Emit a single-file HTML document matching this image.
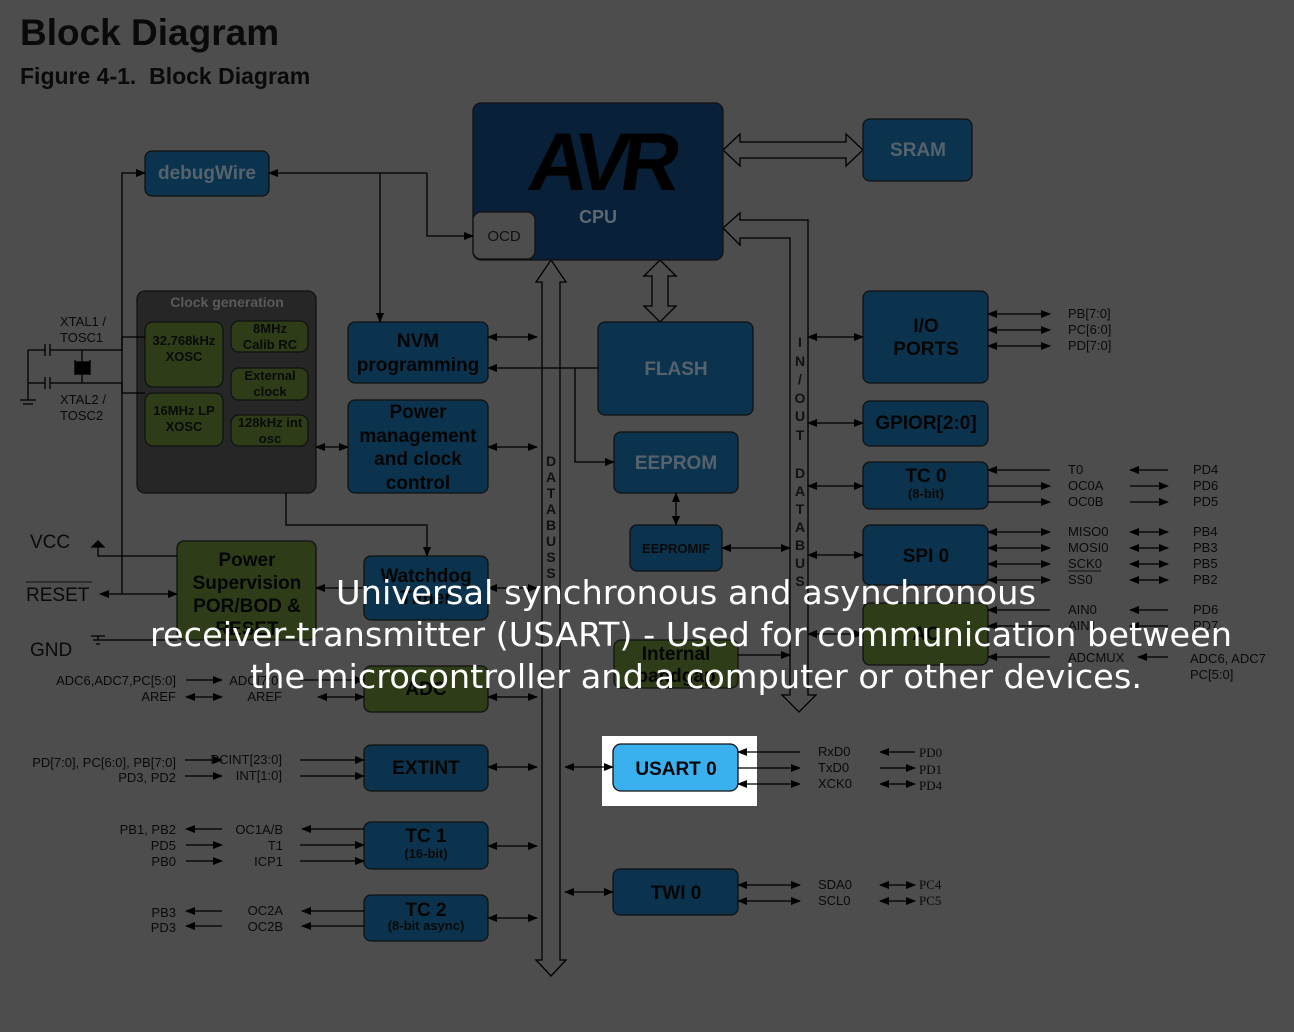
<!DOCTYPE html>
<html><head><meta charset="utf-8"><style>
html,body{margin:0;padding:0;background:#4d4d4d;}
svg{display:block;font-family:"Liberation Sans",Arial,sans-serif;}
.b{fill:#0b334d;stroke:#111;stroke-width:1.3}
.g{fill:#2e3d18;stroke:#111;stroke-width:1.3}
.l{stroke:#000;stroke-width:1.3;fill:none}
.bt{font-weight:bold;font-size:19px;fill:#050505;text-anchor:middle}
.gt{font-weight:bold;font-size:19px;fill:#56636d;text-anchor:middle}
.s{font-size:13px;fill:#0a0a0a}
.sb{font-weight:bold;font-size:13px;fill:#0a0a0a;text-anchor:middle}
.ov{fill:#fff;font-size:33px;text-anchor:middle;font-family:"DejaVu Sans","Liberation Sans",sans-serif}
</style></head><body>
<svg width="1294" height="1032" viewBox="0 0 1294 1032" xmlns="http://www.w3.org/2000/svg">
<defs>
<marker id="a" markerWidth="10" markerHeight="8" refX="9" refY="4" orient="auto-start-reverse" markerUnits="userSpaceOnUse"><path d="M0,0 L10,4 L0,8 z" fill="#000"/></marker>
</defs>
<rect width="1294" height="1032" fill="#4d4d4d"/>
<text x="20" y="45" font-size="37" font-weight="bold" fill="#0a0a0a">Block Diagram</text>
<text x="20" y="84" font-size="23" font-weight="bold" fill="#0a0a0a" xml:space="preserve" style="white-space:pre">Figure 4-1.  Block Diagram</text>

<polygon class="l" points="551,260 536,282 542,282 542,960 536,960 551,976 566,960 560,960 560,282 566,282"/>
<g font-size="14" font-weight="bold" fill="#111" text-anchor="middle">
<text x="551" y="466">D</text><text x="551" y="482">A</text><text x="551" y="498">T</text><text x="551" y="514">A</text><text x="551" y="530">B</text><text x="551" y="546">U</text><text x="551" y="562">S</text><text x="551" y="578">S</text>
</g>
<path class="l" d="M723,228 L740,213 L740,220 L808,220 L808,695 L816,695 L799,712 L782,695 L790,695 L790,238 L740,238 L740,245 Z"/>
<g font-size="14" font-weight="bold" fill="#111" text-anchor="middle">
<text x="800" y="347">I</text><text x="800" y="366">N</text><text x="800" y="384">/</text><text x="800" y="403">O</text><text x="800" y="421">U</text><text x="800" y="440">T</text>
<text x="800" y="478">D</text><text x="800" y="496">A</text><text x="800" y="514">T</text><text x="800" y="532">A</text><text x="800" y="550">B</text><text x="800" y="568">U</text><text x="800" y="586">S</text>
</g>
<polygon class="l" points="723,150 740,134 740,142 846,142 846,134 863,150 846,166 846,158 740,158 740,166"/>
<polygon class="l" points="660,260 676,276 668,276 668,306 676,306 660,322 644,306 652,306 652,276 644,276"/>

<rect x="473" y="103" width="250" height="157" rx="8" fill="#082038" stroke="#111" stroke-width="1.3"/>
<text x="598" y="190" font-size="82" font-weight="bold" fill="#000" text-anchor="middle" letter-spacing="-8" transform="skewX(-8) translate(26,0)">AVR</text>
<text x="598" y="223" font-size="18" font-weight="bold" fill="#5e6870" text-anchor="middle">CPU</text>
<rect x="473" y="212" width="62" height="47" rx="8" fill="#4d4d4d" stroke="#111" stroke-width="1.3"/>
<text x="504" y="241" font-size="15" fill="#111" text-anchor="middle">OCD</text>

<rect class="b" x="863" y="119" width="109" height="62" rx="7"/><text class="gt" x="918" y="156">SRAM</text>
<rect class="b" x="145" y="151" width="124" height="45" rx="7"/><text class="gt" x="207" y="179">debugWire</text>

<rect x="137" y="291" width="179" height="202" rx="8" fill="#262626" stroke="#111" stroke-width="1.3"/>
<text x="227" y="307" font-size="14" font-weight="bold" fill="#5a5a5a" text-anchor="middle">Clock generation</text>
<rect class="g" x="145" y="322" width="78" height="65" rx="8"/><text class="sb" x="184" y="345">32.768kHz</text><text class="sb" x="184" y="361">XOSC</text>
<rect class="g" x="145" y="393" width="78" height="53" rx="8"/><text class="sb" x="184" y="415">16MHz LP</text><text class="sb" x="184" y="431">XOSC</text>
<rect class="g" x="231" y="321" width="77" height="31" rx="8"/><text class="sb" x="270" y="333">8MHz</text><text class="sb" x="270" y="349">Calib RC</text>
<rect class="g" x="231" y="368" width="77" height="32" rx="8"/><text class="sb" x="270" y="380">External</text><text class="sb" x="270" y="396">clock</text>
<rect class="g" x="231" y="415" width="77" height="31" rx="8"/><text class="sb" x="270" y="427">128kHz int</text><text class="sb" x="270" y="443">osc</text>

<rect class="b" x="348" y="322" width="140" height="61" rx="7"/><text class="bt" x="418" y="347">NVM</text><text class="bt" x="418" y="371">programming</text>
<rect class="b" x="348" y="400" width="140" height="93" rx="7"/><text class="bt" x="418" y="418">Power</text><text class="bt" x="418" y="442">management</text><text class="bt" x="418" y="465">and clock</text><text class="bt" x="418" y="489">control</text>
<rect class="b" x="598" y="322" width="155" height="93" rx="7"/><text class="gt" x="676" y="375">FLASH</text>
<rect class="b" x="614" y="432" width="124" height="61" rx="7"/><text class="gt" x="676" y="469">EEPROM</text>
<rect class="b" x="630" y="525" width="92" height="46" rx="7"/><text class="sb" x="676" y="553" font-size="15">EEPROMIF</text>
<rect class="b" x="364" y="556" width="124" height="64" rx="7"/><text class="bt" x="426" y="582">Watchdog</text><text class="bt" x="426" y="604">Timer</text>
<rect class="g" x="177" y="541" width="139" height="99" rx="7"/><text class="bt" x="247" y="566">Power</text><text class="bt" x="247" y="589">Supervision</text><text class="bt" x="247" y="612">POR/BOD &amp;</text><text class="bt" x="247" y="635">RESET</text>
<rect class="g" x="364" y="666" width="124" height="46" rx="7"/><text class="bt" x="426" y="695">ADC</text>
<rect class="g" x="614" y="640" width="124" height="48" rx="7"/><text class="bt" x="676" y="660" font-size="17">Internal</text><text class="bt" x="676" y="682" font-size="17">bandgap</text>
<rect class="b" x="364" y="745" width="124" height="46" rx="7"/><text class="bt" x="426" y="774">EXTINT</text>
<rect class="b" x="364" y="822" width="124" height="47" rx="7"/><text class="bt" x="426" y="842">TC 1</text><text class="sb" x="426" y="858">(16-bit)</text>
<rect class="b" x="364" y="895" width="124" height="46" rx="7"/><text class="bt" x="426" y="916">TC 2</text><text class="sb" x="426" y="930">(8-bit async)</text>
<rect x="602" y="736" width="155" height="70" fill="#fff"/>
<rect x="613" y="744" width="125" height="47" rx="8" fill="#3ab0ef" stroke="#111" stroke-width="1.3"/><text class="bt" x="676" y="775">USART 0</text>
<rect class="b" x="613" y="869" width="125" height="46" rx="7"/><text class="bt" x="676" y="899">TWI 0</text>
<rect class="b" x="863" y="291" width="125" height="92" rx="7"/><text class="bt" x="926" y="332">I/O</text><text class="bt" x="926" y="355">PORTS</text>
<rect class="b" x="863" y="401" width="125" height="45" rx="7"/><text class="bt" x="926" y="429">GPIOR[2:0]</text>
<rect class="b" x="863" y="462" width="125" height="47" rx="7"/><text class="bt" x="926" y="482">TC 0</text><text class="sb" x="926" y="498">(8-bit)</text>
<rect class="b" x="863" y="525" width="125" height="60" rx="7"/><text class="bt" x="926" y="562">SPI 0</text>
<rect class="g" x="863" y="603" width="125" height="62" rx="7"/><text class="bt" x="926" y="640">AC</text>

<g class="l">
<path d="M122,594 L122,173 L145,173" marker-end="url(#a)"/>
<path d="M427,173 L269,173" marker-end="url(#a)"/>
<path d="M427,173 L427,236 L473,236" marker-end="url(#a)"/>
<path d="M380,173 L380,322" marker-end="url(#a)"/>
<path d="M316,447 L348,447" marker-start="url(#a)" marker-end="url(#a)"/>
<path d="M286,493 L286,525 L427,525 L427,556" marker-end="url(#a)"/>
<path d="M100,594 L177,594" marker-start="url(#a)" marker-end="url(#a)"/>
<path d="M98,546 L98,556 L177,556"/><path d="M92,547 L98,541 L104,547 Z" fill="#000"/>
<path d="M98,640 L177,640 M98,640 L98,636 M91,636 L105,636 M93,640 L103,640 M96,644 L100,644"/>
<path d="M364,588 L316,588" marker-end="url(#a)"/>
<path d="M488,337 L537,337" marker-start="url(#a)" marker-end="url(#a)"/>
<path d="M598,368 L488,368" marker-end="url(#a)"/>
<path d="M575,368 L575,462 L614,462" marker-end="url(#a)"/>
<path d="M488,447 L537,447" marker-start="url(#a)" marker-end="url(#a)"/>
<path d="M488,588 L537,588" marker-start="url(#a)" marker-end="url(#a)"/>
<path d="M488,697 L537,697" marker-start="url(#a)" marker-end="url(#a)"/>
<path d="M488,767 L537,767" marker-start="url(#a)" marker-end="url(#a)"/>
<path d="M488,846 L537,846" marker-start="url(#a)" marker-end="url(#a)"/>
<path d="M488,918 L537,918" marker-start="url(#a)" marker-end="url(#a)"/>
<path d="M565,767 L613,767" marker-start="url(#a)" marker-end="url(#a)"/>
<path d="M565,892 L613,892" marker-start="url(#a)" marker-end="url(#a)"/>
<path d="M676,493 L676,525" marker-start="url(#a)" marker-end="url(#a)"/>
<path d="M722,548 L790,548" marker-start="url(#a)" marker-end="url(#a)"/>
<path d="M738,655 L790,655" marker-end="url(#a)"/>
<path d="M808,337 L863,337" marker-start="url(#a)" marker-end="url(#a)"/>
<path d="M808,423 L863,423" marker-start="url(#a)" marker-end="url(#a)"/>
<path d="M808,486 L863,486" marker-start="url(#a)" marker-end="url(#a)"/>
<path d="M808,555 L863,555" marker-start="url(#a)" marker-end="url(#a)"/>
<path d="M808,634 L863,634" marker-start="url(#a)" marker-end="url(#a)"/>
<path d="M318,697 L364,697" marker-start="url(#a)" marker-end="url(#a)"/>
<path d="M300,680 L364,680" marker-end="url(#a)"/>
<path d="M300,760 L364,760" marker-end="url(#a)"/>
<path d="M300,776 L364,776" marker-end="url(#a)"/>
<path d="M364,829 L302,829" marker-end="url(#a)"/>
<path d="M300,845 L364,845" marker-end="url(#a)"/>
<path d="M300,861 L364,861" marker-end="url(#a)"/>
<path d="M364,911 L302,911" marker-end="url(#a)"/>
<path d="M364,926 L302,926" marker-end="url(#a)"/>
<path d="M222,829 L186,829" marker-end="url(#a)"/><path d="M186,845 L222,845" marker-end="url(#a)"/><path d="M186,861 L222,861" marker-end="url(#a)"/>
<path d="M222,911 L186,911" marker-end="url(#a)"/><path d="M222,926 L186,926" marker-end="url(#a)"/>
<path d="M186,680 L222,680" marker-end="url(#a)"/><path d="M186,697 L222,697" marker-start="url(#a)" marker-end="url(#a)"/>
<path d="M185,760 L222,760" marker-end="url(#a)"/><path d="M185,776 L222,776" marker-end="url(#a)"/>
<path d="M60,350 L122,350 L122,337 L145,337 M60,383 L122,383 L122,393 L145,393 M75,360 L75,375 M82,358 L82,377 M90,360 L90,375 M82,350 L82,358 M82,377 L82,383 M28,350 L45,350 M28,383 L45,383 M45,344 L45,356 M50,344 L50,356 M45,377 L45,389 M50,377 L50,389 M50,350 L60,350 M50,383 L60,383 M28,350 L28,400 M20,400 L36,400 M23,404 L33,404"/>
<rect x="76" y="362" width="13" height="12" fill="#000"/>
<path d="M738,752 L800,752" marker-start="url(#a)"/>
<path d="M738,768 L800,768" marker-end="url(#a)"/>
<path d="M738,784 L800,784" marker-start="url(#a)" marker-end="url(#a)"/>
<path d="M915,752 L880,752" marker-end="url(#a)"/><path d="M880,768 L915,768" marker-end="url(#a)"/><path d="M880,784 L915,784" marker-start="url(#a)" marker-end="url(#a)"/>
<path d="M738,885 L800,885" marker-start="url(#a)" marker-end="url(#a)"/><path d="M738,901 L800,901" marker-start="url(#a)" marker-end="url(#a)"/>
<path d="M880,885 L915,885" marker-start="url(#a)" marker-end="url(#a)"/><path d="M880,901 L915,901" marker-start="url(#a)" marker-end="url(#a)"/>
<path d="M988,314 L1050,314" marker-start="url(#a)" marker-end="url(#a)"/><path d="M988,330 L1050,330" marker-start="url(#a)" marker-end="url(#a)"/><path d="M988,346 L1050,346" marker-start="url(#a)" marker-end="url(#a)"/>
<path d="M1050,470 L988,470" marker-end="url(#a)"/><path d="M988,486 L1050,486" marker-end="url(#a)"/><path d="M988,502 L1050,502" marker-end="url(#a)"/>
<path d="M1168,470 L1130,470" marker-end="url(#a)"/><path d="M1130,486 L1168,486" marker-end="url(#a)"/><path d="M1130,502 L1168,502" marker-end="url(#a)"/>
<path d="M988,532 L1050,532" marker-start="url(#a)" marker-end="url(#a)"/><path d="M988,548 L1050,548" marker-start="url(#a)" marker-end="url(#a)"/><path d="M988,564 L1050,564" marker-start="url(#a)" marker-end="url(#a)"/><path d="M988,580 L1050,580" marker-start="url(#a)" marker-end="url(#a)"/>
<path d="M1130,532 L1168,532" marker-start="url(#a)" marker-end="url(#a)"/><path d="M1130,548 L1168,548" marker-start="url(#a)" marker-end="url(#a)"/><path d="M1130,564 L1168,564" marker-start="url(#a)" marker-end="url(#a)"/><path d="M1130,580 L1168,580" marker-start="url(#a)" marker-end="url(#a)"/>
<path d="M1050,610 L988,610" marker-end="url(#a)"/><path d="M1050,626 L988,626" marker-end="url(#a)"/><path d="M1050,657 L988,657" marker-end="url(#a)"/>
<path d="M1168,610 L1130,610" marker-end="url(#a)"/><path d="M1168,626 L1130,626" marker-end="url(#a)"/><path d="M1168,657 L1138,657" marker-end="url(#a)"/>
</g>

<g class="s">
<text x="60" y="326">XTAL1 /</text><text x="60" y="342">TOSC1</text>
<text x="60" y="404">XTAL2 /</text><text x="60" y="420">TOSC2</text>
<text x="30" y="548" font-size="19">VCC</text>
<text x="26" y="601" font-size="19">RESET</text><path d="M26,582 L92,582" stroke="#111" stroke-width="1"/>
<text x="30" y="656" font-size="19">GND</text>
<text x="176" y="685" text-anchor="end">ADC6,ADC7,PC[5:0]</text><text x="176" y="701" text-anchor="end">AREF</text>
<text x="282" y="685" text-anchor="end">ADC[7:0]</text><text x="282" y="701" text-anchor="end">AREF</text>
<text x="176" y="767" text-anchor="end">PD[7:0], PC[6:0], PB[7:0]</text><text x="176" y="782" text-anchor="end">PD3, PD2</text>
<text x="282" y="764" text-anchor="end">PCINT[23:0]</text><text x="282" y="780" text-anchor="end">INT[1:0]</text>
<text x="176" y="834" text-anchor="end">PB1, PB2</text><text x="176" y="850" text-anchor="end">PD5</text><text x="176" y="866" text-anchor="end">PB0</text>
<text x="283" y="834" text-anchor="end">OC1A/B</text><text x="283" y="850" text-anchor="end">T1</text><text x="283" y="866" text-anchor="end">ICP1</text>
<text x="176" y="917" text-anchor="end">PB3</text><text x="176" y="932" text-anchor="end">PD3</text>
<text x="283" y="915" text-anchor="end">OC2A</text><text x="283" y="931" text-anchor="end">OC2B</text>
<text x="818" y="756">RxD0</text><text x="818" y="772">TxD0</text><text x="818" y="788">XCK0</text>
<text x="919" y="757" font-family="Liberation Serif">PD0</text><text x="919" y="774" font-family="Liberation Serif">PD1</text><text x="919" y="790" font-family="Liberation Serif">PD4</text>
<text x="818" y="889">SDA0</text><text x="818" y="905">SCL0</text>
<text x="919" y="889" font-family="Liberation Serif">PC4</text><text x="919" y="905" font-family="Liberation Serif">PC5</text>
<text x="1068" y="318">PB[7:0]</text><text x="1068" y="334">PC[6:0]</text><text x="1068" y="350">PD[7:0]</text>
<text x="1068" y="474">T0</text><text x="1068" y="490">OC0A</text><text x="1068" y="506">OC0B</text>
<text x="1193" y="474">PD4</text><text x="1193" y="490">PD6</text><text x="1193" y="506">PD5</text>
<text x="1068" y="536">MISO0</text><text x="1068" y="552">MOSI0</text><text x="1068" y="568">SCK0</text><text x="1068" y="584">SS0</text>
<path d="M1068,571 L1101,571" stroke="#111" stroke-width="1"/>
<text x="1193" y="536">PB4</text><text x="1193" y="552">PB3</text><text x="1193" y="568">PB5</text><text x="1193" y="584">PB2</text>
<text x="1068" y="614">AIN0</text><text x="1068" y="630">AIN1</text><text x="1068" y="662">ADCMUX</text>
<text x="1193" y="614">PD6</text><text x="1193" y="630">PD7</text><text x="1190" y="663">ADC6, ADC7</text><text x="1190" y="679">PC[5:0]</text>
</g>

<text class="ov" x="686" y="604" textLength="700" lengthAdjust="spacingAndGlyphs">Universal synchronous and asynchronous</text>
<text class="ov" x="691" y="646" textLength="1082" lengthAdjust="spacingAndGlyphs">receiver-transmitter (USART) - Used for communication between</text>
<text class="ov" x="696" y="688" textLength="892" lengthAdjust="spacingAndGlyphs">the microcontroller and a computer or other devices.</text>
</svg>
</body></html>
